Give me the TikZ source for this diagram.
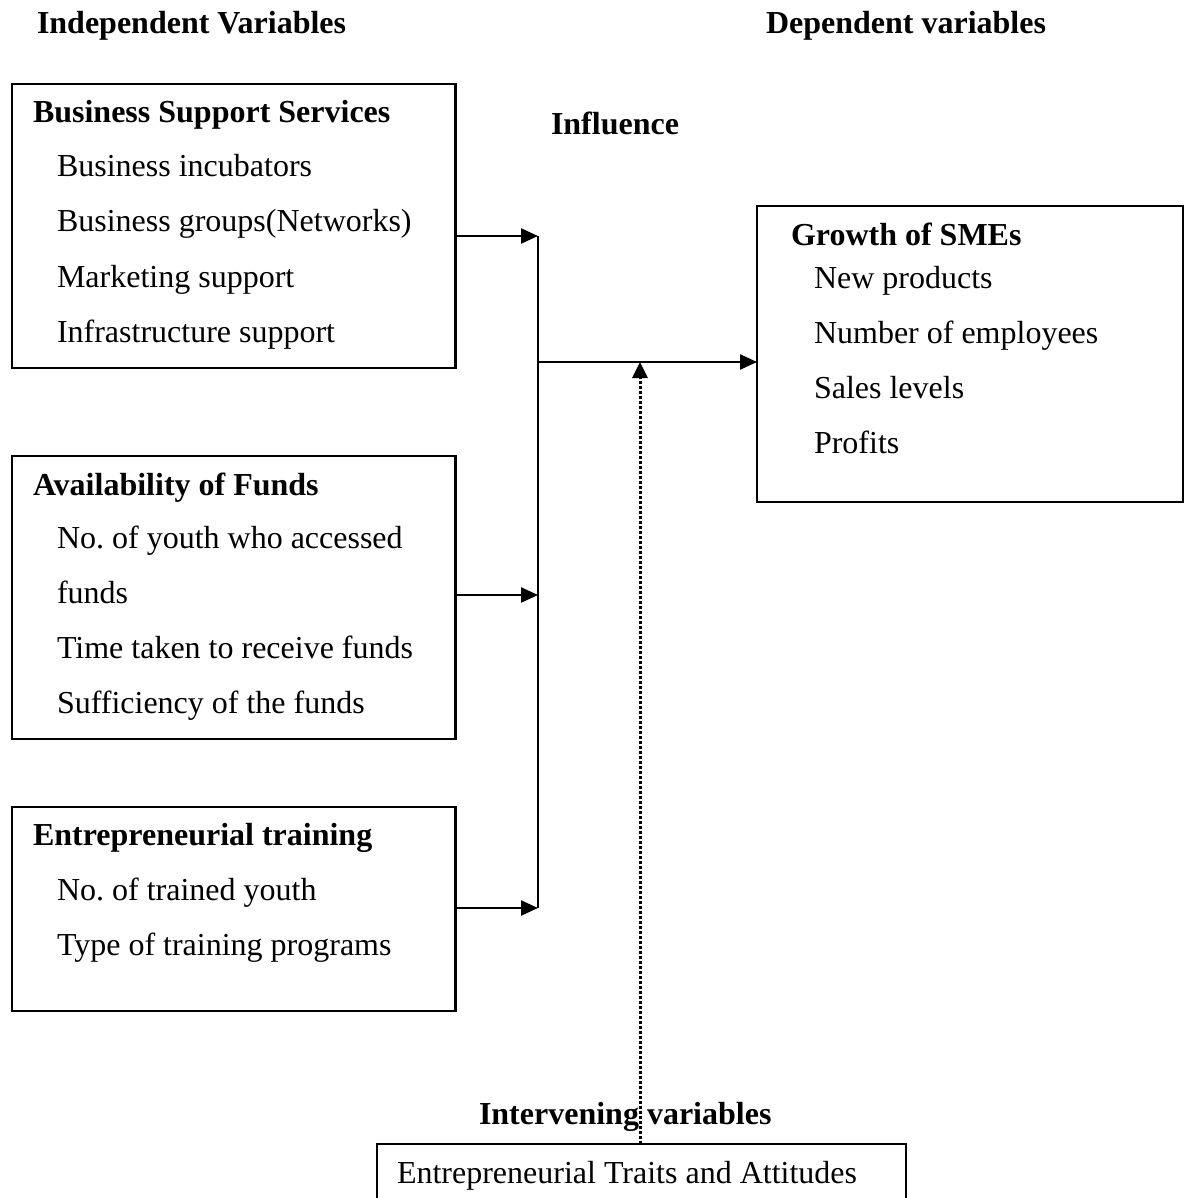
\documentclass[tikz,border=0pt]{standalone}
\usepackage{fontspec}
\setmainfont{Liberation Serif}
\usetikzlibrary{arrows.meta}
\tikzset{
  box/.style={draw, line width=2.2pt, rectangle, inner sep=0pt, outer sep=0pt, anchor=north west},
  txt/.style={inner sep=0pt, outer sep=0pt, anchor=base west, font=\fontsize{32}{38}\selectfont},
  hdr/.style={txt, font=\fontsize{32}{38}\selectfont\bfseries},
  conn/.style={line width=2.4pt},
  arr/.style={line width=2.4pt, -{Triangle[length=17pt,width=15pt]}},
  dotarr/.style={line width=3pt, dash pattern=on 3pt off 2pt, -{Triangle[length=16pt,width=15pt]}}
}
\frenchspacing
\begin{document}
\begin{tikzpicture}[x=1pt,y=-1pt]
\useasboundingbox (0,0) rectangle (1187,1198);
\clip (0,0) rectangle (1187,1198);
% headers
\node[hdr] (hind) at (37,34) {Independent Variables};
\node[hdr] (hdep) at (766,34) {Dependent variables};
\node[hdr] (hinf) at (551,135) {Influence};
\node[hdr] (hint) at (479,1124) {Intervening variables};
% boxes
\node[box, minimum width=443.5pt, minimum height=284pt] (bss) at (12,84) {};
\node[box, minimum width=443.5pt, minimum height=283pt] (af) at (12,456) {};
\node[box, minimum width=443.5pt, minimum height=204pt] (et) at (12,807) {};
\node[box, minimum width=426pt, minimum height=296pt] (gro) at (757,206) {};
\node[box, minimum width=529pt, minimum height=90pt] (itv) at (377,1144) {};
% box 1 texts
\node[hdr] (b1t) at (33,123) {Business Support Services};
\node[txt] (b1a) at (57,177) {Business incubators};
\node[txt] (b1b) at (57,232) {Business groups(Networks)};
\node[txt] (b1c) at (57,287) {Marketing support};
\node[txt] (b1d) at (57,342) {Infrastructure support};
% box 2 texts
\node[hdr] (b2t) at (33,495) {Availability of Funds};
\node[txt] (b2a) at (57,548) {No. of youth who accessed};
\node[txt] (b2b) at (57,603) {funds};
\node[txt] (b2c) at (57,658) {Time taken to receive funds};
\node[txt] (b2d) at (57,713) {Sufficiency of the funds};
% box 3 texts
\node[hdr] (b3t) at (33,845) {Entrepreneurial training};
\node[txt] (b3a) at (57,900) {No. of trained youth};
\node[txt] (b3b) at (57,955) {Type of training programs};
% growth texts
\node[hdr] (g0) at (791,245) {Growth of SMEs};
\node[txt] (g1) at (814,288) {New products};
\node[txt] (g2) at (814,343) {Number of employees};
\node[txt] (g3) at (814,398) {Sales levels};
\node[txt] (g4) at (814,453) {Profits};
% intervening text
\node[txt] (itt) at (397,1183) {Entrepreneurial Traits and Attitudes};
% connectors
\coordinate (j1) at (538,236);
\coordinate (j2) at (538,595);
\coordinate (j3) at (538,908);
\coordinate (jm) at (538,362);
\coordinate (dm) at (640,362);
\draw[arr] (bss.east |- j1) -- (j1);
\draw[arr] (af.east |- j2) -- (j2);
\draw[arr] (et.east |- j3) -- (j3);
\draw[conn] (j1) -- (j3);
\draw[arr] (jm) -- (jm -| gro.west);
\draw[dotarr] (dm |- itv.north) -- (dm);
\end{tikzpicture}
\end{document}
